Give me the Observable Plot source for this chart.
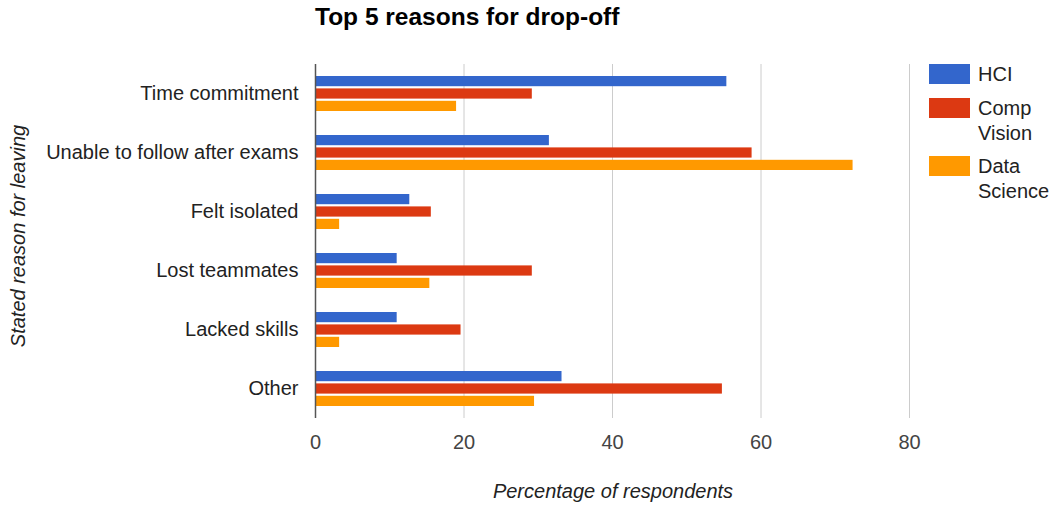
<!DOCTYPE html>
<html>
<head>
<meta charset="utf-8">
<script src="https://cdn.jsdelivr.net/npm/d3@7"></script>
<script src="https://cdn.jsdelivr.net/npm/@observablehq/plot@0.6"></script>
<style>
  body { margin: 0; background: #fff; }
  #wrap { position: relative; width: 1056px; height: 507px; font-family: "Liberation Sans", Arial, sans-serif; color: #222; }
  #wrap svg { position: absolute; left: 0; top: 0; }
  .abs { position: absolute; white-space: nowrap; }
  #title { left: 315px; top: 3px; font-size: 24.5px; font-weight: bold; color: #000; }
  #xlab { left: 0; width: 1226px; text-align: center; top: 480px; font-size: 20px; font-style: italic; color: #222; }
  #ylab { left: 18px; top: 236px; font-size: 20px; font-style: italic; color: #222; transform: translate(-50%, -50%) rotate(-90deg); }
  .sw { position: absolute; width: 41px; height: 20px; left: 929px; }
  .lt { position: absolute; left: 978px; font-size: 20px; line-height: 25px; color: #222; }
</style>
</head>
<body>
<div id="wrap">
  <div id="title" class="abs">Top 5 reasons for drop-off</div>
  <div id="xlab" class="abs">Percentage of respondents</div>
  <div id="ylab" class="abs">Stated reason for leaving</div>
  <div id="legend"></div>
</div>
<script>
const reasons = ["Time commitment", "Unable to follow after exams", "Felt isolated", "Lost teammates", "Lacked skills", "Other"];
const series = ["HCI", "Comp Vision", "Data Science"];
const hci = [55.4, 31.5, 12.7, 11.0, 11.0, 33.2];
const compVision = [29.2, 58.8, 15.6, 29.2, 19.6, 54.8];
const dataScience = [19.0, 72.4, 3.25, 15.4, 3.25, 29.5];
const xTicks = [0, 20, 40, 60, 80];
const colors = ["#3366cc", "#dc3912", "#ff9900"];
const legendLines = [["HCI"], ["Comp", "Vision"], ["Data", "Science"]];

const values = [hci, compVision, dataScience];
const rows = [];
series.forEach((s, si) => reasons.forEach((r, ri) => rows.push({reason: r, series: s, value: values[si][ri]})));

const bw = 35.3, bh = 10.5, step = (bw - bh) / 2;
const barMarks = series.map((s, si) => Plot.barX(rows.filter(d => d.series === s), {
  x: "value", y: "reason", fill: colors[si],
  insetTop: si * step, insetBottom: (2 - si) * step
}));

const chart = Plot.plot({
  width: 1056, height: 507,
  marginLeft: 315, marginRight: 147, marginTop: 64, marginBottom: 89,
  style: {fontFamily: '"Liberation Sans", Arial, sans-serif', fontSize: "20px", color: "#222", background: "transparent"},
  x: {domain: [0, 80], ticks: xTicks, label: null},
  y: {domain: reasons, paddingInner: 0.4, paddingOuter: 0.2, label: null},
  marks: [
    Plot.gridX(xTicks.filter(t => t !== 0), {stroke: "#cccccc", strokeOpacity: 1}),
    ...barMarks,
    Plot.ruleX([0], {stroke: "#555", strokeWidth: 1.5}),
    Plot.axisX({ticks: xTicks, tickSize: 0, tickPadding: 16, fill: "#444", label: null}),
    Plot.axisY({tickSize: 0, tickPadding: 17, fill: "#222", label: null})
  ]
});
document.getElementById("wrap").prepend(chart);

const lg = document.getElementById("legend");
const swTops = [64, 98, 156];
legendLines.forEach((lines, i) => {
  const sw = document.createElement("div");
  sw.className = "sw"; sw.style.top = swTops[i] + "px"; sw.style.background = colors[i];
  lg.appendChild(sw);
  const t = document.createElement("div");
  t.className = "lt"; t.style.top = (swTops[i] - 2.5) + "px";
  t.innerHTML = lines.join("<br>");
  lg.appendChild(t);
});
</script>
</body>
</html>
